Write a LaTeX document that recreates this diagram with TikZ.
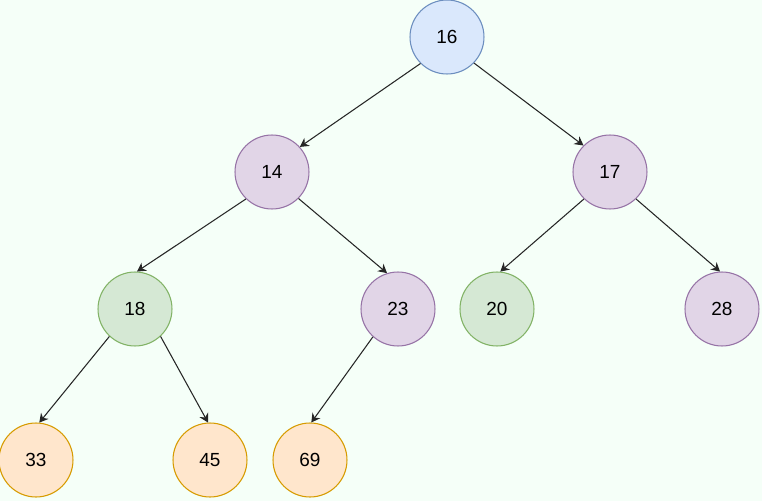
\documentclass[tikz,border=0pt]{standalone}
\usepackage{fontspec}
\setmainfont{Liberation Sans}
\usetikzlibrary{arrows.meta}
\definecolor{bgmint}{HTML}{F5FFF8}
\definecolor{bluefill}{HTML}{DAE8FC}\definecolor{bluedraw}{HTML}{6C8EBF}
\definecolor{purplefill}{HTML}{E1D5E7}\definecolor{purpledraw}{HTML}{9673A6}
\definecolor{greenfill}{HTML}{D5E8D4}\definecolor{greendraw}{HTML}{82B366}
\definecolor{orangefill}{HTML}{FFE6CC}\definecolor{orangedraw}{HTML}{D79B00}
\begin{document}
\begin{tikzpicture}[x=0.02cm, y=-0.02cm,
  every node/.style={circle, minimum size=1.48cm, inner sep=0pt, line width=0.6pt,
    font=\fontsize{10.8}{12}\selectfont},
  bluenode/.style={draw=bluedraw, fill=bluefill},
  purplenode/.style={draw=purpledraw, fill=purplefill},
  greennode/.style={draw=greendraw, fill=greenfill},
  orangenode/.style={draw=orangedraw, fill=orangefill},
  edge/.style={-{Stealth[length=5pt, width=5.5pt]}, line width=0.6pt, draw=black!85}]
  % background
  \fill[bgmint] (0,0) rectangle (762,501);
  \useasboundingbox (0,0) rectangle (762,501);
  % Root and children
  \node[bluenode] (n16) at (447,37) {16};
  \node[purplenode] (n14) at (272,172) {14};
  \node[purplenode] (n17) at (610,172) {17};
  % Third row
  \node[greennode] (n18) at (135,309) {18};
  \node[purplenode] (n23) at (398,309) {23};
  \node[greennode] (n20) at (497,309) {20};
  \node[purplenode] (n28) at (722,309) {28};
  % Leaves
  \node[orangenode] (n33) at (36,460) {33};
  \node[orangenode] (n45) at (210,460) {45};
  \node[orangenode] (n69) at (310,460) {69};
  % Edges
  \draw[edge] (n16.225) -- (n14.42);
  \draw[edge] (n16.316) -- (n17.135);
  \draw[edge] (n14.226) -- (n18.87);
  \draw[edge] (n14.315) -- (n23.107);
  \draw[edge] (n17.226) -- (n20.85);
  \draw[edge] (n17.314) -- (n28.93);
  \draw[edge] (n18.227) -- (n33.85);
  \draw[edge] (n18.313) -- (n45.93);
  \draw[edge] (n23.228) -- (n69.88);
\end{tikzpicture}
\end{document}
